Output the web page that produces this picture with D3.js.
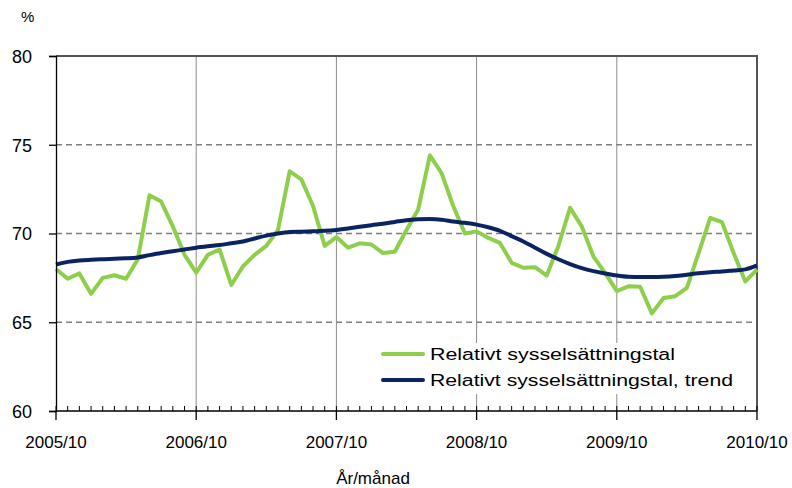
<!DOCTYPE html>
<html>
<head>
<meta charset="utf-8">
<script src="https://cdn.jsdelivr.net/npm/d3@7"></script>
<style>
    body { margin: 0; background: #fff; }
    svg text { font-family: "Liberation Sans", Arial, sans-serif; fill: #000; }
</style>
</head>
<body>
<svg id="chart" width="792" height="488"></svg>
<script>
// monthly data, 2005/10 .. 2010/10
var start_year = 2005, start_month = 10;

var sysselsattning = [
    68.0, 67.45, 67.75, 66.6, 67.5, 67.65, 67.45, 68.55, 72.15, 71.8,
    70.4, 68.8, 67.8, 68.8, 69.1, 67.1, 68.15, 68.8, 69.3, 70.2,
    73.5, 73.05, 71.55, 69.3, 69.8, 69.2, 69.45, 69.38, 68.9, 68.97,
    70.2, 71.35, 74.4, 73.4, 71.55, 70.0, 70.12, 69.75, 69.47, 68.35,
    68.07, 68.1, 67.63, 69.3, 71.45, 70.4, 68.7, 67.78, 66.75, 67.03,
    67.0, 65.5, 66.37, 66.47, 66.94, 68.9, 70.88, 70.64, 68.9, 67.3,
    67.97
];

var trend = [
    68.25, 68.4, 68.48, 68.52, 68.55, 68.58, 68.6, 68.65, 68.78, 68.9,
    69.0, 69.1, 69.2, 69.28, 69.35, 69.45, 69.55, 69.72, 69.88, 70.0,
    70.08, 70.1, 70.12, 70.15, 70.2, 70.28, 70.38, 70.47, 70.55, 70.65,
    70.75, 70.8, 70.82, 70.78, 70.68, 70.6, 70.5, 70.35, 70.15, 69.85,
    69.55, 69.2, 68.85, 68.55, 68.28, 68.05, 67.88, 67.75, 67.63, 67.56,
    67.55, 67.55, 67.56, 67.6, 67.68, 67.76, 67.82, 67.86, 67.92, 67.98,
    68.2
];

var y_ticks = [60, 65, 70, 75, 80];
var year_labels = ["2005/10", "2006/10", "2007/10", "2008/10", "2009/10", "2010/10"];
var series_names = ["Relativt sysselsättningstal", "Relativt sysselsättningstal, trend"];

var colors = {green: "#8DCF4A", navy: "#0A2463"};

var margin = {top: 56, right: 35, bottom: 77, left: 56},
    width = 792 - margin.left - margin.right,
    height = 488 - margin.top - margin.bottom;

var svg = d3.select("#chart"),
    g = svg.append("g").attr("transform", "translate(" + margin.left + "," + margin.top + ")");

var x = d3.scaleLinear().domain([0, sysselsattning.length - 1]).range([0, width]);
var y = d3.scaleLinear().domain([60, 80]).range([height, 0]);

// horizontal dashed grid
g.selectAll(".hgrid").data(y_ticks.filter(function (d) { return d > 60 && d < 80; }))
    .enter().append("line")
    .attr("x1", 0).attr("x2", width)
    .attr("y1", function (d) { return y(d); })
    .attr("y2", function (d) { return y(d); })
    .attr("stroke", "#7f7f7f").attr("stroke-width", 1.3)
    .attr("stroke-dasharray", "6,4");

// vertical year grid
var year_idx = d3.range(12, sysselsattning.length - 1, 12);
g.selectAll(".vgrid").data(year_idx)
    .enter().append("line")
    .attr("x1", function (d) { return x(d); })
    .attr("x2", function (d) { return x(d); })
    .attr("y1", 0).attr("y2", height)
    .attr("stroke", "#8c8c8c").attr("stroke-width", 1);

// top and right border
g.append("path")
    .attr("d", "M0,0H" + width + "V" + height)
    .attr("fill", "none").attr("stroke", "#555").attr("stroke-width", 2);

// legend background hides the grid
var legend = g.append("g").attr("transform", "translate(" + (378 - margin.left) + "," + (343 - margin.top) + ")");
legend.append("rect").attr("width", 360).attr("height", 51).attr("fill", "#fff");

// lines
var line = d3.line()
    .x(function (d, i) { return x(i); })
    .y(function (d) { return y(d); });

g.append("path").datum(sysselsattning)
    .attr("d", line)
    .attr("fill", "none").attr("stroke", colors.green)
    .attr("stroke-width", 4).attr("stroke-linejoin", "round");

g.append("path").datum(trend)
    .attr("d", line.curve(d3.curveMonotoneX))
    .attr("fill", "none").attr("stroke", colors.navy)
    .attr("stroke-width", 4).attr("stroke-linejoin", "round");

// legend entries
[colors.green, colors.navy].forEach(function (c, i) {
    var row = legend.append("g").attr("transform", "translate(0," + (11 + i * 26) + ")");
    row.append("line").attr("x1", 5).attr("x2", 45).attr("y1", 0).attr("y2", 0)
        .attr("stroke", c).attr("stroke-width", 4).attr("stroke-linecap", "round");
    row.append("text").attr("x", 52).attr("y", 6)
        .attr("font-size", 16)
        .attr("textLength", i === 0 ? 245 : 303)
        .attr("lengthAdjust", "spacingAndGlyphs")
        .text(series_names[i]);
});

// y axis
var y_axis = g.append("g")
    .call(d3.axisLeft(y).tickValues(y_ticks).tickSize(7).tickPadding(17));
y_axis.select(".domain").attr("stroke", "#000").attr("stroke-width", 1.3);
y_axis.selectAll(".tick line").attr("stroke", "#000").attr("stroke-width", 1.3);
y_axis.selectAll("text").attr("font-size", 18).attr("font-family", "Liberation Sans, Arial, sans-serif").attr("dy", "0.35em");

// x axis: minor monthly ticks up, major yearly ticks down
var x_axis = g.append("g").attr("transform", "translate(0," + height + ")");
x_axis.append("line").attr("x1", 0).attr("x2", width)
    .attr("stroke", "#000").attr("stroke-width", 1.3);
x_axis.selectAll(".minor").data(d3.range(0, sysselsattning.length))
    .enter().append("line")
    .attr("x1", function (d) { return x(d); })
    .attr("x2", function (d) { return x(d); })
    .attr("y1", 0).attr("y2", -5)
    .attr("stroke", "#000").attr("stroke-width", 1);
var majors = d3.range(0, sysselsattning.length, 12);
x_axis.selectAll(".major").data(majors)
    .enter().append("line")
    .attr("x1", function (d) { return x(d); })
    .attr("x2", function (d) { return x(d); })
    .attr("y1", 0).attr("y2", 9)
    .attr("stroke", "#000").attr("stroke-width", 1.3);
x_axis.selectAll(".xlabel").data(majors)
    .enter().append("text")
    .attr("x", function (d) { return x(d); })
    .attr("y", 37)
    .attr("text-anchor", "middle")
    .attr("font-size", 17)
    .text(function (d, i) { return year_labels[i]; });

// axis titles
svg.append("text").attr("x", 373).attr("y", 484).attr("text-anchor", "middle")
    .attr("font-size", 17).text("År/månad");
svg.append("text").attr("x", 21).attr("y", 22)
    .attr("font-size", 15).text("%");
</script>
</body>
</html>
